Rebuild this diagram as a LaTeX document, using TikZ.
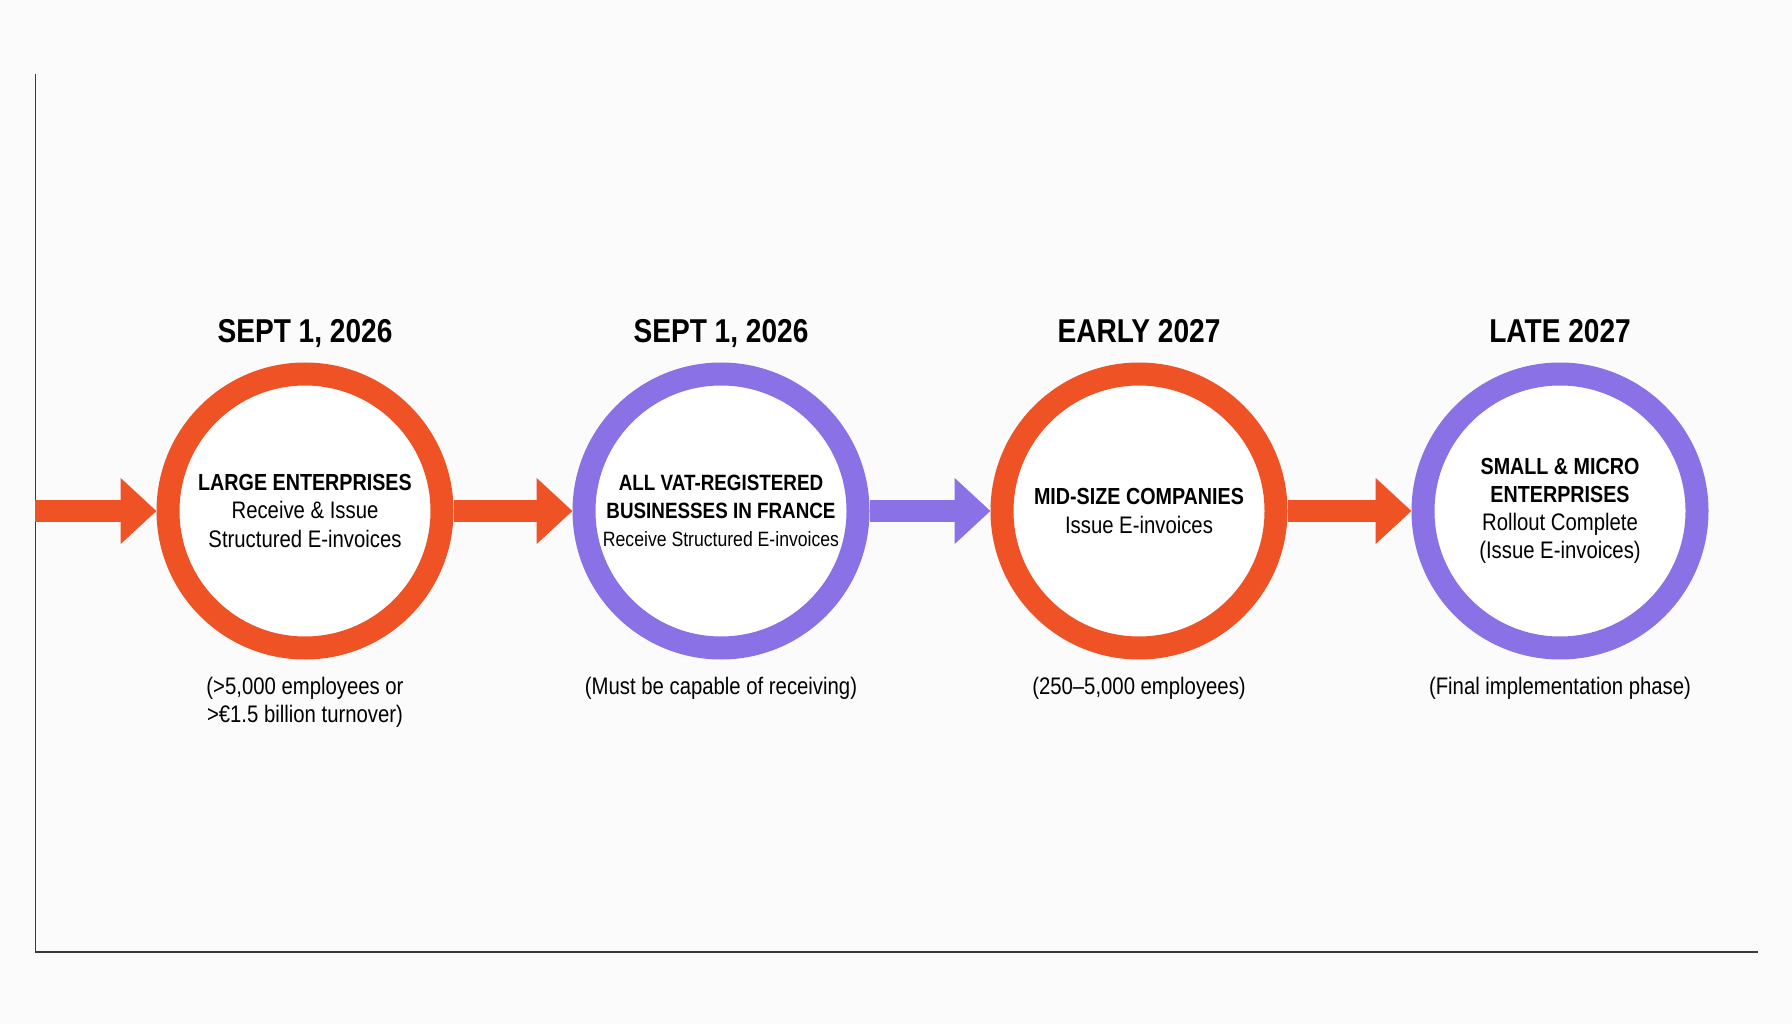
\documentclass[tikz,border=0pt]{standalone}
\usepackage{xcolor}
\usepackage{fontspec}
\setmainfont[FakeStretch=0.85]{Liberation Sans}
\usepackage{tikz}
\usetikzlibrary{arrows.meta, positioning}

\definecolor{rollorange}{HTML}{EF5224}
\definecolor{rollpurple}{HTML}{8A71E6}
\definecolor{axisgray}{HTML}{3A3A3A}
\definecolor{paper}{HTML}{FBFBFB}

\newcommand{\phasefont}{\fontsize{6.8}{8}\selectfont}
\newcommand{\phasehead}[1]{{\fontsize{6.6}{8}\selectfont\bfseries #1}}

\tikzset{
  phase/.style={circle, draw=#1, line width=0.23cm, minimum size=2.74cm,
                inner sep=0pt, fill=white, align=center, font=\phasefont},
  datelabel/.style={inner sep=0pt, text depth=0pt, font=\fontsize{9.4}{11}\selectfont\bfseries},
  notelabel/.style={inner sep=0pt, align=center, font=\phasefont},
  flow/.style={draw=#1, line width=0.21cm,
               -{Triangle[length=0.36cm, width=0.64cm]}}
}

\begin{document}
\begin{tikzpicture}
	\fill[paper] (0,0) rectangle (17.92,10.24);
	\useasboundingbox (0,0) rectangle (17.92,10.24);
	% axes
	\draw[axisgray, line width=0.5pt] (0.354,9.50) -- (0.354,0.72) -- (17.58,0.72);
	% phases
	\coordinate (start) at (0.354,5.13);
	\node at (3.05,5.13) (p1) [phase=rollorange] {\phasehead{LARGE ENTERPRISES}\\Receive \& Issue\\Structured E-invoices};
	\node at (7.21,5.13) (p2) [phase=rollpurple] {{\fontsize{6.3}{8}\selectfont\bfseries ALL VAT-REGISTERED}\\{\fontsize{6.3}{8}\selectfont\bfseries BUSINESSES IN FRANCE}\\{\fontsize{5.9}{7}\selectfont Receive Structured E-invoices}};
	\node at (11.39,5.13) (p3) [phase=rollorange] {\phasehead{MID-SIZE COMPANIES}\\Issue E-invoices};
	\node at (15.60,5.13) (p4) [phase=rollpurple] {\phasehead{SMALL \& MICRO}\\\phasehead{ENTERPRISES}\\Rollout Complete\\(Issue E-invoices)};
	% dates
	\node (d1) [datelabel, above=0.19cm of p1] {SEPT 1, 2026};
	\node (d2) [datelabel, above=0.19cm of p2] {SEPT 1, 2026};
	\node (d3) [datelabel, above=0.19cm of p3] {EARLY 2027};
	\node (d4) [datelabel, above=0.19cm of p4] {LATE 2027};
	% notes
	\node (n1) [notelabel, below=0.17cm of p1] {(>5,000 employees or\\>€1.5 billion turnover)};
	\node (n2) [notelabel, below=0.17cm of p2] {(Must be capable of receiving)};
	\node (n3) [notelabel, below=0.17cm of p3] {(250–5,000 employees)};
	\node (n4) [notelabel, below=0.17cm of p4] {(Final implementation phase)};
	% arrows
	\draw[flow=rollorange] (start) -- (p1);
	\draw[flow=rollorange] (p1) -- (p2);
	\draw[flow=rollpurple] (p2) -- (p3);
	\draw[flow=rollorange] (p3) -- (p4);
\end{tikzpicture}
\end{document}
